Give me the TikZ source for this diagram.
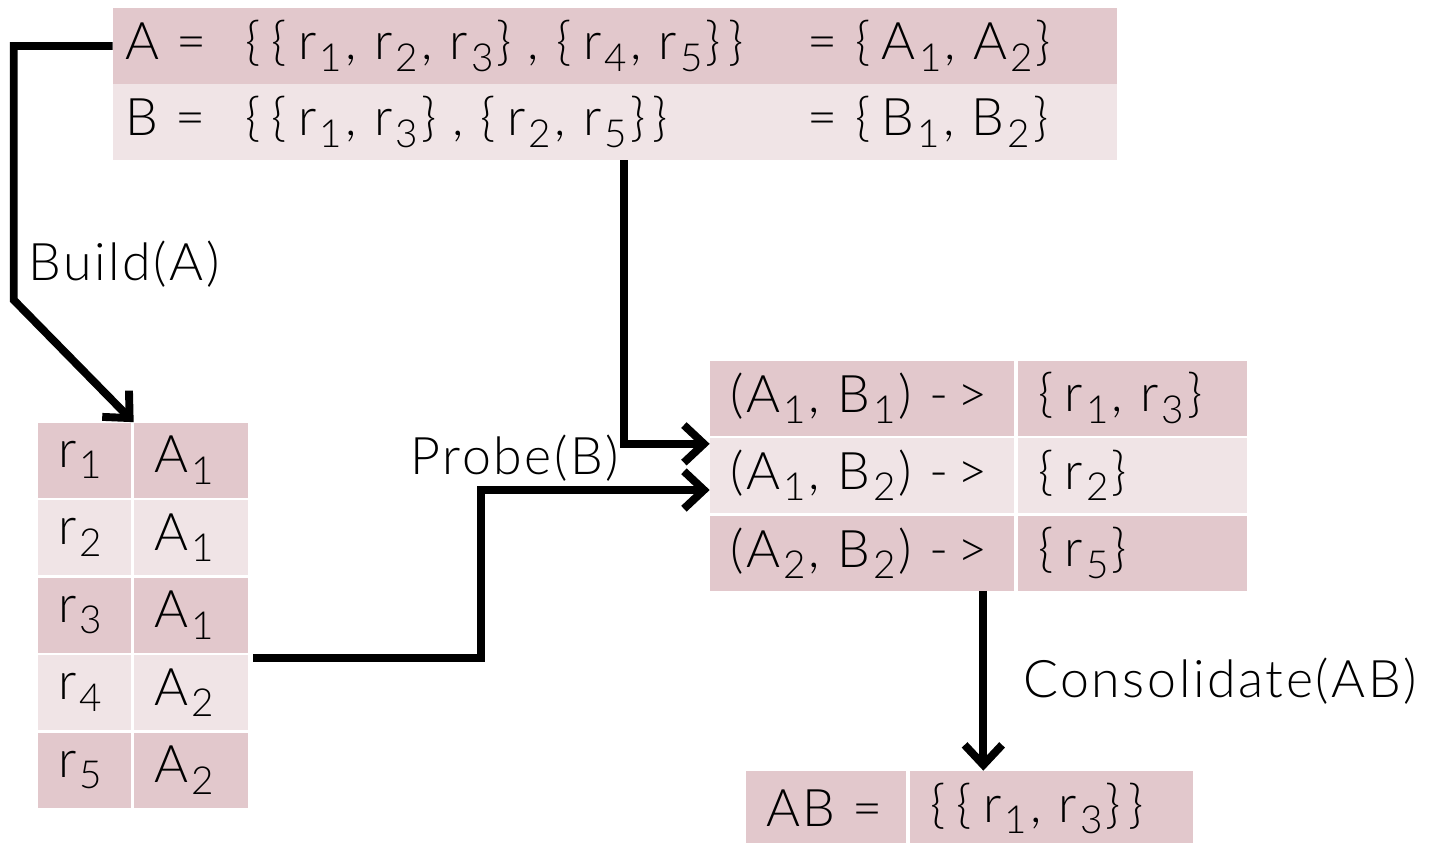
\documentclass[tikz,border=0pt]{standalone}
\usepackage{fontspec}
\IfFontExistsTF{Lato Light}{\setmainfont{Lato Light}[LetterSpace=5]}{\setmainfont{Lato}[LetterSpace=5]}
\usetikzlibrary{arrows.meta,positioning}
\definecolor{rowdark}{RGB}{226,200,204}
\definecolor{rowlight}{RGB}{240,228,230}
\newcommand{\ix}[1]{\kern0.06em\raisebox{-0.22em}{\fontsize{22}{22}\selectfont #1}\kern0.06em}
\newcommand{\bopen}{\{\kern0.22em}
\newcommand{\bclose}{\}\kern0.14em}

\begin{document}
\begin{tikzpicture}[x=0.02cm,y=-0.02cm,
  every node/.style={font=\fontsize{29.5}{34}\selectfont},
  cell/.style={minimum height=1.5cm,inner xsep=0.4cm,inner ysep=0pt,align=left},
  dark/.style={cell,fill=rowdark},
  light/.style={cell,fill=rowlight},
  flow/.style={line width=4.5pt,-{Straight Barb[length=0.4cm,width=0.75cm]}}]
  \useasboundingbox (0,0) rectangle (1429,842);

  % the two partitions
  \node[dark,text width=19.6cm,inner xsep=0.24cm,minimum height=1.52cm] (seta) at (615,46) {%
    \makebox[2.4cm][l]{A =}\makebox[11.26cm][l]{\bopen\bopen r\ix1, r\ix2, r\ix3\bclose\,, \bopen r\ix4, r\ix5\bclose\bclose}= \bopen A\ix1, A\ix2\bclose};
  \node[light,text width=19.6cm,inner xsep=0.24cm,minimum height=1.52cm] (setb) at (615,122) {%
    \makebox[2.4cm][l]{B =}\makebox[11.26cm][l]{\bopen\bopen r\ix1, r\ix3\bclose\,, \bopen r\ix2, r\ix5\bclose\bclose}= \bopen B\ix1, B\ix2\bclose};

  % hash table of A
  \foreach \i/\a/\s in {1/1/dark,2/1/light,3/1/dark,4/2/light,5/2/dark}{
    \node[\s,text width=1.06cm] (r\i) at (84.5,{382.5+77.5*\i}) {r\ix{\i}};
    \node[\s,text width=1.48cm] (a\i) at (191,{382.5+77.5*\i}) {A\ix{\a}};
  }

  % probe result
  \node[dark,text width=5.28cm] (p1) at (862,398) {(A\ix1, B\ix1) -\,>};
  \node[dark,text width=3.78cm] (q1) at (1132.5,398) {\bopen r\ix1, r\ix3\bclose};
  \node[light,text width=5.28cm] (p2) at (862,475.5) {(A\ix1, B\ix2) -\,>};
  \node[light,text width=3.78cm] (q2) at (1132.5,475.5) {\bopen r\ix2\bclose};
  \node[dark,text width=5.28cm] (p3) at (862,553) {(A\ix2, B\ix2) -\,>};
  \node[dark,text width=3.78cm] (q3) at (1132.5,553) {\bopen r\ix5\bclose};

  % consolidated result
  \node[dark,text width=2.4cm] (ab1) at (826,808.5) {AB =};
  \node[dark,text width=4.86cm] (ab2) at (1051.5,808.5) {\bopen\bopen r\ix1, r\ix3\bclose\bclose};

  \draw[flow] (seta.west) -- ++(-99,0) -- ++(0,254) node[pos=0.86,right=0.1cm]{Build(A)} -- (a1.north west);
  \draw[flow] ([xshift=0.18cm]setb.south) |- ([yshift=-0.16cm]p1.south west);
  \draw[flow] ([xshift=0.1cm,yshift=-0.1cm]a3.south east) -- ++(228,0) |- ([yshift=-0.29cm]p2.west);
  \node (probe) at (515,458) {Probe(B)};
  \coordinate (merge) at ([xshift=-0.62cm]p3.south east);
  \draw[flow] (merge) -- (merge |- ab2.north) node[midway,right=0.6cm]{Consolidate(AB)};
\end{tikzpicture}
\end{document}
